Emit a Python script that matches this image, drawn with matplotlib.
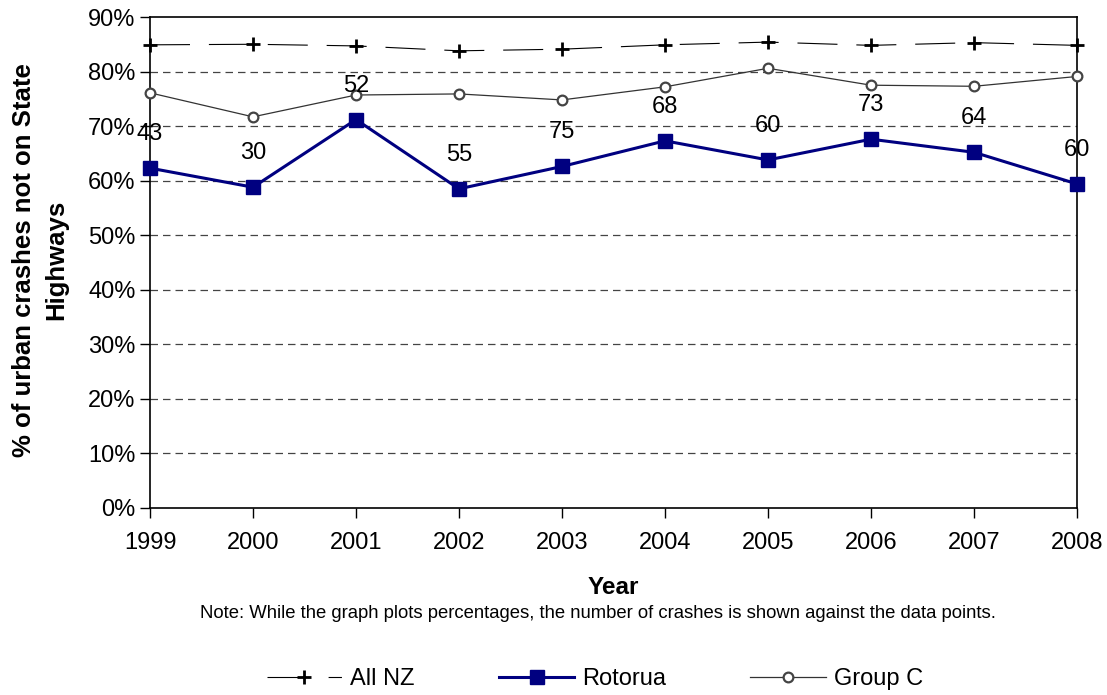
import matplotlib
matplotlib.use("Agg")
import matplotlib.pyplot as plt
from matplotlib.lines import Line2D

plt.rcParams['font.family'] = ['Liberation Sans', 'DejaVu Sans']

years = [1999, 2000, 2001, 2002, 2003, 2004, 2005, 2006, 2007, 2008]
all_nz = [84.9, 85.0, 84.7, 83.8, 84.1, 84.9, 85.4, 84.8, 85.3, 84.8]
group_c = [76.1, 71.7, 75.7, 75.9, 74.8, 77.2, 80.6, 77.5, 77.3, 79.1]
rotorua = [62.3, 58.8, 71.2, 58.5, 62.6, 67.3, 63.8, 67.6, 65.2, 59.4]
crash_counts = [43, 30, 52, 55, 75, 68, 60, 73, 64, 60]
yticks = [0, 10, 20, 30, 40, 50, 60, 70, 80, 90]

fig = plt.figure(figsize=(11.07, 6.95), dpi=100)
ax = fig.add_axes([150/1107, 1 - 508/695, (1077-150)/1107, (508-17)/695])

for v in yticks[1:-1]:
    ax.axhline(v, color='#444444', lw=0.9, ls=(0, (6, 4)), zorder=0)

ax.plot(years, all_nz, color='black', lw=0.8, ls=(0, (36, 17)), zorder=2, clip_on=False)
ax.plot(years, all_nz, ls='none', marker='+', ms=10, mew=2, color='black', zorder=3, clip_on=False)
ax.plot(years, group_c, color='#333333', lw=0.9, marker='o', ms=7, mfc='white',
        mec='#444444', mew=1.6, zorder=3, clip_on=False)
ax.plot(years, rotorua, color='#000080', lw=2.2, marker='s', ms=9.5, zorder=4, clip_on=False)

for x, y, n in zip(years, rotorua, crash_counts):
    ax.annotate(str(n), (x, y), xytext=(0, 34), textcoords='offset pixels',
                ha='center', va='center', fontsize=17)

ax.set_xlim(years[0], years[-1])
ax.set_ylim(0, 90)
ax.set_yticks(yticks)
ax.set_yticklabels([f"{v}%" for v in yticks])
ax.set_xticks(years)
ax.tick_params(axis='both', labelsize=17, direction='out', length=7, width=1)
ax.tick_params(axis='x', pad=10)
for s in ax.spines.values():
    s.set_linewidth(1.2)

ax.set_xlabel('Year', fontsize=17.5, fontweight='bold', labelpad=16)
fig.text(40/1107, 1 - 260/695, '% of urban crashes not on State\nHighways', rotation=90,
         ha='center', va='center', fontsize=18.5, fontweight='bold', multialignment='center',
         linespacing=1.45)

fig.text(598/1107, 1 - 613/695,
         'Note: While the graph plots percentages, the number of crashes is shown against the data points.',
         ha='center', va='center', fontsize=13.3)

handles = [
    Line2D([], [], color='black', lw=0.8, marker='+', ms=10, mew=2, ls=(0, (36, 19, 12, 90))),
    Line2D([], [], color='#000080', lw=2.2, marker='s', ms=9.5),
    Line2D([], [], color='#333333', lw=0.9, marker='o', ms=7, mfc='white', mec='#444444', mew=1.6),
]
fig.legend(handles, ['All NZ', 'Rotorua', 'Group C'], loc='center', bbox_to_anchor=(595/1107, 1 - 679/695),
           ncol=3, frameon=False, fontsize=17, handlelength=3.2, columnspacing=3.55, handletextpad=0.35)

fig.savefig('out.png', dpi=100)
